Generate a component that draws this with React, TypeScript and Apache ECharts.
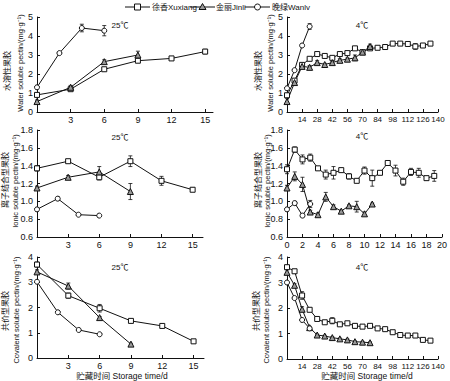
import React, { useEffect, useRef } from 'react';
import * as echarts from 'echarts';

// ---- sampling days ----
const days25Xuxiang = [0, 3, 6, 9, 12, 15];
const days25Jinli = [0, 3, 6, 9];
const days25Wanlv = [0, 2, 4, 6];
const days4Xuxiang = [0, 7, 14, 21, 28, 35, 42, 49, 56, 63, 70, 77, 84, 91, 98, 105, 112, 119, 126, 133];
const days4Jinli = [0, 7, 14, 21, 28, 35, 42, 49, 56, 63, 70, 77];
const days4Wanlv = [0, 7, 14, 21];
const index4Xuxiang = [0, 1, 2, 3, 4, 5, 6, 7, 8, 9, 10, 11, 12, 13, 14, 15, 16, 17, 18, 19];
const index4Jinli = [0, 1, 2, 3, 4, 5, 6, 7, 8, 9, 10, 11];
const index4Wanlv = [0, 1, 2, 3];

// ---- water soluble pectin ----
const waterXuxiang25 = [0.9, 1.2, 2.25, 2.7, 2.82, 3.18];
const waterXuxiang25Err = [0.1, 0.08, 0.08, 0.1, 0.05, 0.12];
const waterJinli25 = [0.55, 1.3, 2.65, 3.0];
const waterJinli25Err = [0.08, 0.1, 0.1, 0.2];
const waterWanlv25 = [1.3, 3.1, 4.42, 4.28];
const waterWanlv25Err = [0.08, 0.05, 0.2, 0.27];

const waterXuxiang4 = [0.88, 1.65, 2.48, 2.8, 3.05, 2.95, 2.85, 3.05, 3.1, 3.35, 3.15, 3.35, 3.38, 3.42, 3.6, 3.6, 3.58, 3.45, 3.5, 3.6];
const waterXuxiang4Err = [0.1, 0.08, 0.1, 0.05, 0.06, 0.05, 0.06, 0.05, 0.05, 0.06, 0.08, 0.06, 0.04, 0.04, 0.08, 0.06, 0.05, 0.15, 0.06, 0.05];
const waterJinli4 = [0.55, 1.55, 2.4, 2.35, 2.6, 2.5, 2.6, 2.72, 2.78, 2.85, 3.15, 3.45];
const waterJinli4Err = [0.15, 0.1, 0.08, 0.1, 0.1, 0.06, 0.06, 0.08, 0.06, 0.15, 0.08, 0.12];
const waterWanlv4 = [1.25, 2.2, 3.5, 4.5];
const waterWanlv4Err = [0.08, 0.06, 0.06, 0.15];

// ---- ionic soluble pectin ----
const ionicXuxiang25 = [1.37, 1.45, 1.27, 1.45, 1.23, 1.13];
const ionicXuxiang25Err = [0.03, 0.01, 0.03, 0.06, 0.05, 0.02];
const ionicJinli25 = [1.15, 1.27, 1.33, 1.11];
const ionicJinli25Err = [0.02, 0.02, 0.06, 0.09];
const ionicWanlv25 = [0.91, 1.03, 0.85, 0.84];
const ionicWanlv25Err = [0.02, 0.02, 0.01, 0.01];

const ionicXuxiang4 = [1.36, 1.58, 1.47, 1.49, 1.37, 1.3, 1.32, 1.35, 1.28, 1.23, 1.345, 1.26, 1.32, 1.43, 1.345, 1.22, 1.33, 1.32, 1.26, 1.285];
const ionicXuxiang4Err = [0.05, 0.03, 0.05, 0.04, 0.01, 0.05, 0.07, 0.01, 0.03, 0.01, 0.04, 0.09, 0.01, 0.02, 0.06, 0.04, 0.04, 0.05, 0.01, 0.06];
const ionicJinli4 = [1.15, 1.28, 1.19, 0.88, 0.85, 1.05, 0.94, 0.89, 0.95, 0.94, 0.86, 0.97];
const ionicJinli4Err = [0.03, 0.05, 0.08, 0.02, 0.02, 0.05, 0.02, 0.01, 0.01, 0.06, 0.02, 0.01];
const ionicWanlv4 = [0.91, 0.98, 0.84, 0.97];
const ionicWanlv4Err = [0.02, 0.02, 0.02, 0.04];

// ---- covalent soluble pectin ----
const covXuxiang25 = [3.7, 2.47, 1.97, 1.47, 1.27, 0.66];
const covXuxiang25Err = [0.1, 0.1, 0.15, 0.04, 0.04, 0.04];
const covJinli25 = [3.41, 2.85, 1.6, 0.55];
const covJinli25Err = [0.08, 0.12, 0.04, 0.03];
const covWanlv25 = [3.02, 1.81, 1.11, 0.94];
const covWanlv25Err = [0.05, 0.03, 0.03, 0.02];

const covXuxiang4 = [3.6, 3.44, 2.49, 1.93, 1.57, 1.44, 1.5, 1.36, 1.4, 1.3, 1.27, 1.3, 1.2, 1.17, 1.05, 0.94, 0.92, 0.92, 0.75, 0.72];
const covXuxiang4Err = [0.08, 0.05, 0.15, 0.05, 0.04, 0.03, 0.12, 0.04, 0.04, 0.08, 0.05, 0.04, 0.03, 0.03, 0.03, 0.03, 0.03, 0.03, 0.04, 0.04];
const covJinli4 = [3.4, 2.89, 1.95, 1.23, 0.94, 0.9, 0.84, 0.79, 0.75, 0.68, 0.66, 0.64];
const covJinli4Err = [0.1, 0.06, 0.1, 0.05, 0.03, 0.03, 0.03, 0.03, 0.03, 0.03, 0.03, 0.03];
const covWanlv4 = [3.0, 2.39, 1.53, 1.2];
const covWanlv4Err = [0.05, 0.05, 0.04, 0.04];

// ---- tick labels ----
const ticks25 = [3, 6, 9, 12, 15];
const ticks4 = [14, 28, 42, 56, 70, 84, 98, 112, 126, 140];

const cultivars = ['徐香Xuxiang', '金丽Jinli', '晚绿Wanlv'];
const symbols = ['rect', 'triangle', 'circle'];
const fills = ['#fff', '#999', '#fff'];

const FONT = '"Liberation Sans", Arial, sans-serif';
const MIX = '"Liberation Sans", "Noto Sans CJK SC", sans-serif';
const INK = '#111';

type Panel = {
  grid: any;
  xMax: number;
  xInterval: number;
  xLabels?: number[];
  xFont: number;
  yMin: number;
  yMax: number;
  yInterval: number;
  yDecimals: number;
  xs: number[][];
  ys: number[][];
  errs: number[][];
};

const panels: Panel[] = [
  {
    grid: { left: 37, top: 17, width: 176, height: 95 }, xMax: 15.7, xInterval: 3, xLabels: ticks25, xFont: 9,
    yMin: 0, yMax: 5, yInterval: 1, yDecimals: 0,
    xs: [days25Xuxiang, days25Jinli, days25Wanlv],
    ys: [waterXuxiang25, waterJinli25, waterWanlv25],
    errs: [waterXuxiang25Err, waterJinli25Err, waterWanlv25Err],
  },
  {
    grid: { left: 287, top: 17, width: 151, height: 95 }, xMax: 140, xInterval: 14, xLabels: ticks4, xFont: 8,
    yMin: 0, yMax: 5, yInterval: 1, yDecimals: 0,
    xs: [days4Xuxiang, days4Jinli, days4Wanlv],
    ys: [waterXuxiang4, waterJinli4, waterWanlv4],
    errs: [waterXuxiang4Err, waterJinli4Err, waterWanlv4Err],
  },
  {
    grid: { left: 37, top: 130, width: 166, height: 107 }, xMax: 16, xInterval: 3, xLabels: ticks25, xFont: 9,
    yMin: 0.6, yMax: 1.8, yInterval: 0.2, yDecimals: 1,
    xs: [days25Xuxiang, days25Jinli, days25Wanlv],
    ys: [ionicXuxiang25, ionicJinli25, ionicWanlv25],
    errs: [ionicXuxiang25Err, ionicJinli25Err, ionicWanlv25Err],
  },
  {
    grid: { left: 287, top: 130, width: 155, height: 107 }, xMax: 20, xInterval: 2, xFont: 9,
    yMin: 0.6, yMax: 1.8, yInterval: 0.2, yDecimals: 1,
    xs: [index4Xuxiang, index4Jinli, index4Wanlv],
    ys: [ionicXuxiang4, ionicJinli4, ionicWanlv4],
    errs: [ionicXuxiang4Err, ionicJinli4Err, ionicWanlv4Err],
  },
  {
    grid: { left: 37, top: 257, width: 167, height: 101 }, xMax: 16, xInterval: 3, xLabels: ticks25, xFont: 9,
    yMin: 0, yMax: 4, yInterval: 1, yDecimals: 0,
    xs: [days25Xuxiang, days25Jinli, days25Wanlv],
    ys: [covXuxiang25, covJinli25, covWanlv25],
    errs: [covXuxiang25Err, covJinli25Err, covWanlv25Err],
  },
  {
    grid: { left: 287, top: 257, width: 151, height: 102 }, xMax: 140, xInterval: 14, xLabels: ticks4, xFont: 8,
    yMin: 0, yMax: 4, yInterval: 1, yDecimals: 0,
    xs: [days4Xuxiang, days4Jinli, days4Wanlv],
    ys: [covXuxiang4, covJinli4, covWanlv4],
    errs: [covXuxiang4Err, covJinli4Err, covWanlv4Err],
  },
];

const errorRender = (params: any, api: any) => {
  const x = api.value(0);
  const lo = api.coord([x, api.value(1)]);
  const hi = api.coord([x, api.value(2)]);
  const cap = 2;
  const st = { stroke: INK, lineWidth: 0.8 };
  return {
    type: 'group',
    children: [
      { type: 'line', shape: { x1: lo[0], y1: lo[1], x2: hi[0], y2: hi[1] }, style: st },
      { type: 'line', shape: { x1: lo[0] - cap, y1: lo[1], x2: lo[0] + cap, y2: lo[1] }, style: st },
      { type: 'line', shape: { x1: hi[0] - cap, y1: hi[1], x2: hi[0] + cap, y2: hi[1] }, style: st },
    ],
  };
};

function buildOption() {
  const grid: any[] = [];
  const xAxis: any[] = [];
  const yAxis: any[] = [];
  const series: any[] = [];
  panels.forEach((p, i) => {
    grid.push(p.grid);
    const xa: any = {
      type: 'value', gridIndex: i, min: 0, max: p.xMax, interval: p.xInterval,
      axisLine: { lineStyle: { color: INK, width: 1 } },
      axisTick: { inside: true, length: 3, lineStyle: { color: INK } },
      axisLabel: { color: INK, fontSize: p.xFont, fontFamily: FONT, margin: 3 },
      splitLine: { show: false },
    };
    if (p.xLabels) {
      xa.axisLabel.customValues = p.xLabels;
      xa.axisTick.customValues = p.xLabels;
    }
    xAxis.push(xa);
    yAxis.push({
      type: 'value', gridIndex: i, min: p.yMin, max: p.yMax, interval: p.yInterval,
      axisLine: { show: true, lineStyle: { color: INK, width: 1 } },
      axisTick: { show: true, inside: true, length: 3, lineStyle: { color: INK } },
      axisLabel: {
        color: INK, fontSize: 9, fontFamily: FONT, margin: 4,
        formatter: (v: number) => v.toFixed(p.yDecimals),
      },
      splitLine: { show: false },
    });
    for (let s = 0; s < 3; s++) {
      const xs = p.xs[s];
      const ys = p.ys[s];
      const es = p.errs[s];
      series.push({
        type: 'custom', xAxisIndex: i, yAxisIndex: i, z: 1,
        renderItem: errorRender,
        encode: { x: 0, y: [1, 2] },
        data: xs.map((x, k) => [x, ys[k] - es[k], ys[k] + es[k]]),
        silent: true,
      });
      series.push({
        type: 'line', name: cultivars[s], xAxisIndex: i, yAxisIndex: i, z: 3,
        data: xs.map((x, k) => [x, ys[k]]),
        symbol: symbols[s], symbolSize: s === 1 ? 6 : 5,
        lineStyle: { color: INK, width: 1 },
        itemStyle: { color: fills[s], borderColor: INK, borderWidth: 1 },
      });
    }
  });

  const graphic: any[] = [];
  const txt = (x: number, y: number, text: string, size: number, font: string, rot = 0, align = 'center') => ({
    type: 'text', x, y, rotation: rot,
    style: { text, fill: INK, font: `${size}px ${font}`, align, verticalAlign: 'middle' },
  });
  // temperature labels
  graphic.push(txt(120, 25, '25℃', 8, MIX));
  graphic.push(txt(362, 25, '4℃', 8, MIX));
  graphic.push(txt(120, 137, '25℃', 8, MIX));
  graphic.push(txt(362, 136, '4℃', 8, MIX));
  graphic.push(txt(120, 267, '25℃', 8, MIX));
  graphic.push(txt(362, 267, '4℃', 8, MIX));
  // y axis names
  const R = Math.PI / 2;
  const names = [
    ['水溶性果胶', 'Water soluble pectin/(mg·g⁻¹)'],
    ['离子结合型果胶', 'Ionic soluble pectin/(mg·g⁻¹)'],
    ['共价型果胶', 'Covalent soluble pectin/(mg·g⁻¹)'],
  ];
  const nameY = [[71, 63], [180, 181], [311, 310]];
  const leftX = [[7, 20], [5, 15], [5, 16]];
  const rightX = [[258, 270], [258, 267], [256, 266]];
  for (let r = 0; r < 3; r++) {
    graphic.push(txt(leftX[r][0], nameY[r][0], names[r][0], 8, MIX, R));
    graphic.push(txt(leftX[r][1], nameY[r][1], names[r][1], 7.5, FONT, R));
    graphic.push(txt(rightX[r][0], nameY[r][0], names[r][0], 8, MIX, R));
    graphic.push(txt(rightX[r][1], nameY[r][1], names[r][1], 7.5, FONT, R));
  }
  // x axis names
  graphic.push(txt(122, 376, '贮藏时间 Storage time/d', 8.5, MIX));
  graphic.push(txt(367, 376, '贮藏时间 Storage time/d', 8.5, MIX));
  // legend
  const legY = 7;
  const legStarts = [125, 190, 245];
  const textStarts = [152, 216, 272];
  for (let s = 0; s < 3; s++) {
    const x0 = legStarts[s];
    const cx = x0 + 12.5;
    graphic.push({ type: 'line', shape: { x1: x0, y1: legY, x2: x0 + 25, y2: legY }, style: { stroke: INK, lineWidth: 1 } });
    if (s === 0) {
      graphic.push({ type: 'rect', shape: { x: cx - 3, y: legY - 3, width: 6, height: 6 }, style: { fill: '#fff', stroke: INK, lineWidth: 1 } });
    } else if (s === 1) {
      graphic.push({ type: 'polygon', shape: { points: [[cx, legY - 3.5], [cx + 3.5, legY + 2.5], [cx - 3.5, legY + 2.5]] }, style: { fill: '#999', stroke: INK, lineWidth: 1 } });
    } else {
      graphic.push({ type: 'circle', shape: { cx, cy: legY, r: 3 }, style: { fill: '#fff', stroke: INK, lineWidth: 1 } });
    }
    graphic.push(txt(textStarts[s], legY, cultivars[s], 8, MIX, 0, 'left'));
  }

  return { animation: false, backgroundColor: '#fff', grid, xAxis, yAxis, series, graphic };
}

export default function App() {
  const ref = useRef<HTMLDivElement>(null);
  useEffect(() => {
    if (!ref.current) return;
    const chart = echarts.init(ref.current, null, { renderer: 'svg' });
    chart.setOption(buildOption() as any);
    return () => chart.dispose();
  }, []);
  return <div ref={ref} style={{ position: 'absolute', left: 0, top: 0, width: 450, height: 381, background: '#fff' }} />;
}
